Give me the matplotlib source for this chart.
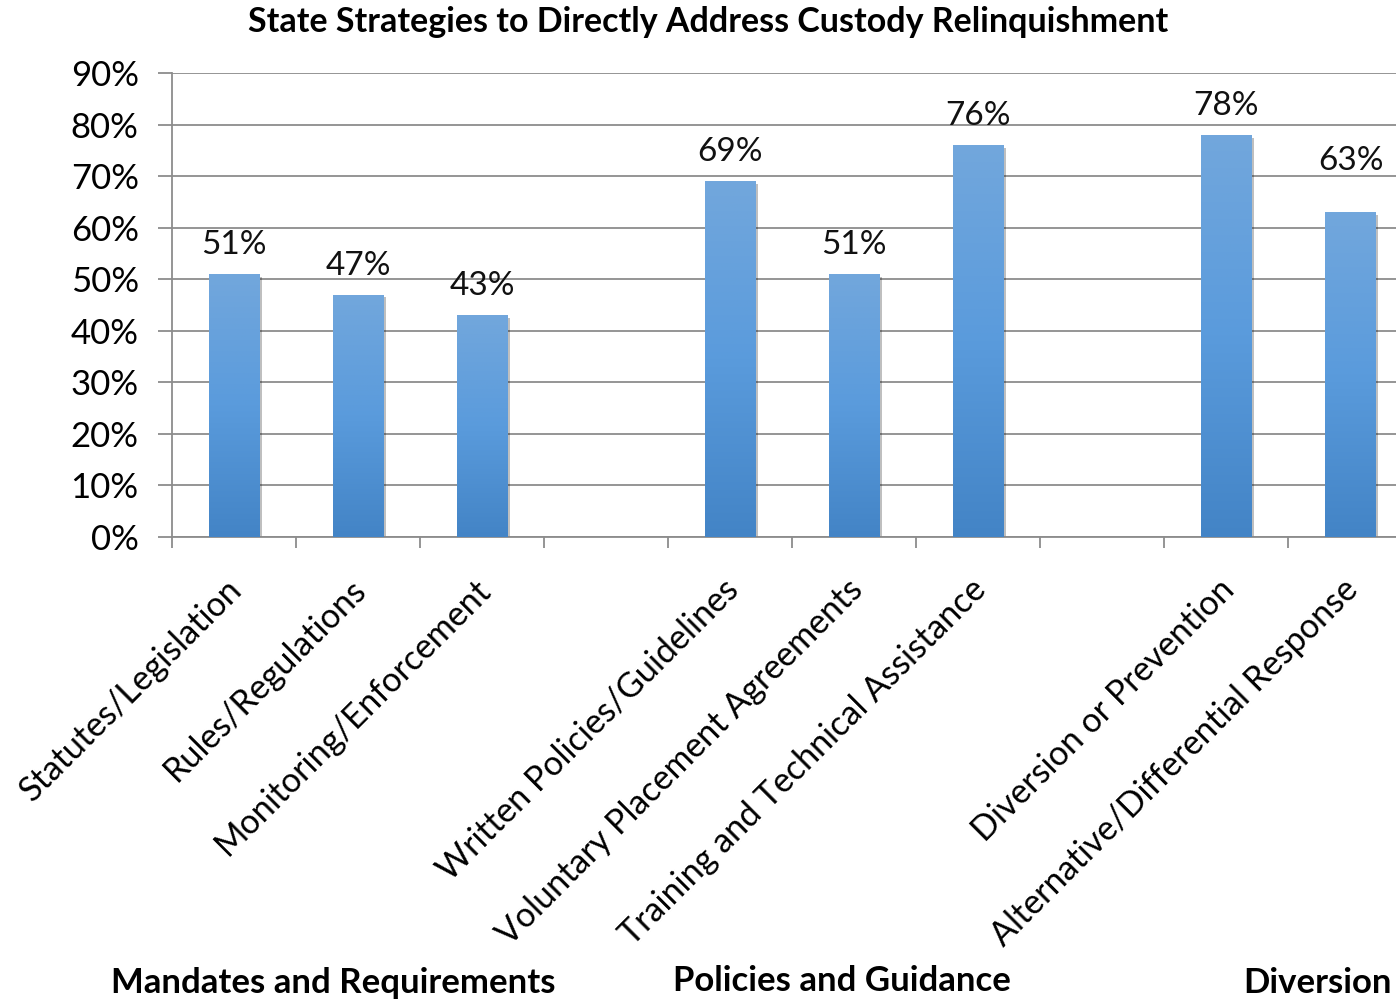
import numpy as np
import matplotlib
matplotlib.use("Agg")
import matplotlib.pyplot as plt
import matplotlib.patheffects as pe
import matplotlib.transforms as mtransforms
from matplotlib.colors import LinearSegmentedColormap

plt.rcParams['font.family'] = ['Lato', 'DejaVu Sans']

# chart data (empty slots are the gaps between groups)
categories = ["Statutes/Legislation", "Rules/Regulations", "Monitoring/Enforcement", "",
              "Written Policies/Guidelines", "Voluntary Placement Agreements",
              "Training and Technical Assistance", "",
              "Diversion or Prevention", "Alternative/Differential Response"]
values = [51, 47, 43, np.nan, 69, 51, 76, np.nan, 78, 63]
groups = ["Mandates and Requirements", "Policies and Guidance", "Diversion"]
title = "State Strategies to Directly Address Custody Relinquishment"

fig = plt.figure(figsize=(13.96, 10), dpi=100)
ax = fig.add_axes([172/1396, 1-537/1000, 1240/1396, 464/1000])

x = np.arange(len(categories))
vals = np.array(values, dtype=float)
bars = ax.bar(x, np.nan_to_num(vals), width=0.41, color='none', edgecolor='none', zorder=3)

grad = LinearSegmentedColormap.from_list('blu', ['#4384c6', '#5a9bdc', '#72a7dc'])
img = np.linspace(0, 1, 256).reshape(-1, 1)
gray = '#8c8c8c'
for i, (b, v) in enumerate(zip(bars, vals)):
    if np.isnan(v):
        continue
    x0, w, h = b.get_x(), b.get_width(), b.get_height()
    sh = plt.Rectangle((x0, 0), w, h, facecolor='#5b9bd5', edgecolor='none', zorder=2.5,
                       path_effects=[pe.SimplePatchShadow(offset=(2, -2), shadow_rgbFace='#000000', alpha=0.25)])
    ax.add_patch(sh)
    im = ax.imshow(img, cmap=grad, aspect='auto', extent=(x0, x0 + w, 0, h), origin='lower', zorder=3)
    im.set_clip_path(b)
    off = 10 if i != 9 else 26  # the last label sits higher in the original
    ax.annotate(f"{int(v)}%", (x0 + w/2, h), xytext=(1 if i == 9 else 0, off), textcoords='offset points',
                ha='center', va='bottom', fontsize=24, color='#111111', zorder=4)

ax.set_xlim(-0.5, len(categories) - 0.5)
ax.set_ylim(0, 90)
ax.set_yticks(np.arange(0, 91, 10))
ax.set_yticklabels([f"{t}%" for t in range(0, 91, 10)], fontsize=25)
ax.yaxis.grid(True, color=gray, linewidth=1.3, zorder=0)
ax.set_axisbelow(True)
ax.tick_params(axis='y', length=10, width=1.3, color=gray, pad=14)

ax.set_xticks(x)
ax.set_xticklabels(categories, rotation=45, ha='right', rotation_mode='anchor', fontsize=24.5)
ax.tick_params(axis='x', length=0, pad=26)
shift = mtransforms.ScaledTranslation(-8/100, 0, fig.dpi_scale_trans)
for lab in ax.get_xticklabels():
    lab.set_transform(lab.get_transform() + shift)
ax.set_xticks(np.arange(-0.5, len(categories), 1), minor=True)
ax.tick_params(axis='x', which='minor', length=8, width=1.3, color=gray, direction='out')

for s in ['top', 'right']:
    ax.spines[s].set_visible(False)
for s in ['left', 'bottom']:
    ax.spines[s].set_color(gray)
    ax.spines[s].set_linewidth(1.3)

fig.text(708/1396, 1-22/1000, title, ha='center', va='center', fontsize=24.5, fontweight='bold')
fig.text(333/1396, 1-983/1000, groups[0], ha='center', va='center', fontsize=25, fontweight='bold')
fig.text(842/1396, 1-981/1000, groups[1], ha='center', va='center', fontsize=25, fontweight='bold')
fig.text(1317/1396, 1-983/1000, groups[2], ha='center', va='center', fontsize=25, fontweight='bold')

fig.savefig("out.png", dpi=100)
